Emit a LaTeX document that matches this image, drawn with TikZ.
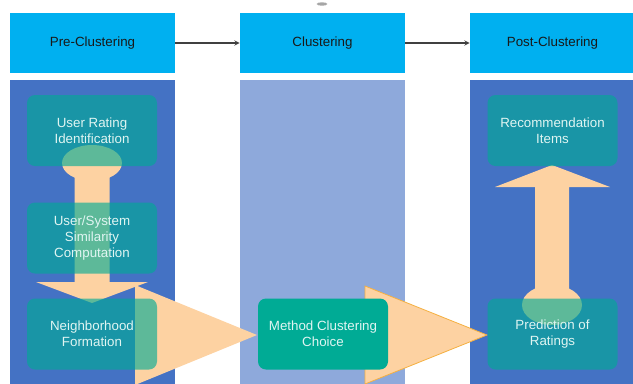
\documentclass[tikz,border=0pt]{standalone}
\usepackage{fontspec}
\setmainfont{Liberation Sans}
\usetikzlibrary{shapes,arrows,positioning,calc}

\definecolor{hdrblue}{HTML}{00B0F0}
\definecolor{colblue}{HTML}{4472C4}
\definecolor{colpale}{HTML}{8EA9DB}
\definecolor{stepteal}{HTML}{00AB95}
\definecolor{peach}{HTML}{FDD2A2}
\definecolor{peachline}{HTML}{F5B041}

\begin{document}
\begin{tikzpicture}[
    x=0.75pt, y=-0.75pt,
    hdrbox/.style={rectangle, fill=hdrblue, minimum width=123.75pt, minimum height=45pt, align=center, font=\fontsize{10}{12}\selectfont, text=black!90},
    stepbox/.style={rectangle, rounded corners=6pt, fill=stepteal, fill opacity=0.63, text opacity=1, minimum width=97.5pt, minimum height=53.25pt, align=center, font=\fontsize{10}{12}\selectfont, text=white!88!stepteal},
    choicebox/.style={stepbox, fill opacity=1},
    hdrarrow/.style={->, >=stealth, black!75, line width=0.8pt},
    fatarrow/.style={fill=peach}
]
\useasboundingbox (0,0) rectangle (633,383);

% Columns
\fill[colblue] (10,80) rectangle (175,390);
\fill[colpale] (240,80) rectangle (405,390);
\fill[colblue] (470,80) rectangle (640,390);

% small handle mark
\fill[gray!70] (322,4) ellipse [x radius=4pt, y radius=1.3pt];

% Headers
\node[hdrbox] (pre) at (92.5,43) {Pre-Clustering};
\node[hdrbox] (clu) at (322.5,43) {Clustering};
\node[hdrbox] (post) at (552.5,43) {Post-Clustering};

\draw[hdrarrow] (pre) -- (clu);
\draw[hdrarrow] (clu) -- (post);

% Fat arrows
\fill[fatarrow] (92,163) ellipse [x radius=22.5pt, y radius=13.5pt];
\fill[fatarrow] (74.5,170) -- (109.5,170) -- (109.5,282) -- (148,282) -- (92,303)
    -- (36,282) -- (74.5,282) -- cycle;
\fill[fatarrow] (135,285) -- (257,335) -- (135,385) -- cycle;
\filldraw[fatarrow, draw=peachline, line width=0.6pt] (365,286) -- (487,335) -- (365,384) -- cycle;
\fill[fatarrow] (552,305) ellipse [x radius=22.5pt, y radius=15pt];
\fill[fatarrow] (535,300) -- (535,187) -- (495,187) -- (552,165) -- (610,187)
    -- (569,187) -- (569,300) -- cycle;

% Pre-Clustering steps
\node[stepbox] (urate) at (92,130.5) {User Rating\\Identification};
\node[stepbox] (usim) at (92,238) {User/System\\Similarity\\Computation};
\node[stepbox] (nform) at (92,334) {Neighborhood\\Formation};

% Clustering step
\node[choicebox] (mchoice) at (323,334) {Method Clustering\\Choice};

% Post-Clustering steps
\node[stepbox] (recit) at (552.5,130.5) {Recommendation\\Items};
\node[stepbox] (pred) at (552.5,334) {Prediction of\\Ratings};

\end{tikzpicture}
\end{document}
